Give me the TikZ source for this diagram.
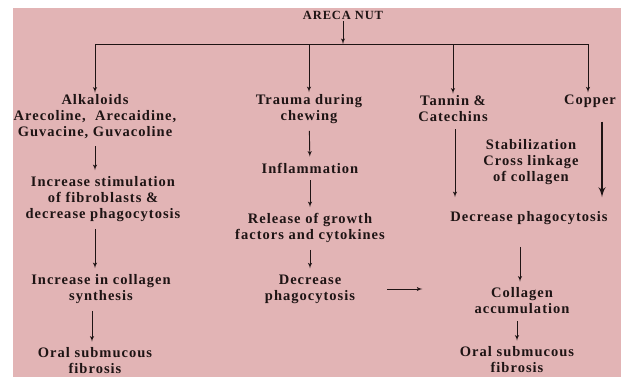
\documentclass[tikz,border=0pt]{standalone}
\usepackage{fontspec}
\setmainfont{Liberation Serif}[LetterSpace=7]
\usetikzlibrary{arrows}
\definecolor{bgpink}{RGB}{226,180,181}
\definecolor{ink}{RGB}{30,20,20}

\begin{document}
\begin{tikzpicture}[x=1pt,y=-1pt]
\tikzset{txt/.style = {align=center, inner sep=2pt, text=ink, font=\bfseries\fontsize{14.5}{16}\selectfont}}
\tikzset{edge/.style = {->, > = latex', draw=ink, line width=0.9pt, shorten <=5pt, shorten >=4pt}}
\tikzset{drop/.style = {->, > = latex', draw=ink, line width=0.9pt}}
\useasboundingbox (0,0) rectangle (624,378);
\fill[bgpink] (13,8) rectangle (621,377);
% top
\node[txt, font=\bfseries\fontsize{12.5}{14}\selectfont](areca) at (343, 15) {ARECA NUT};
\coordinate (bar) at (343, 44);
\coordinate (barL) at (95, 44);
\coordinate (barR) at (588, 44);
% first row
\node[txt](alk) at (95, 117) {Alkaloids\\Arecoline,\ \ Arecaidine,\\Guvacine, Guvacoline};
\node[txt](trauma) at (309, 109) {Trauma during\\chewing};
\node[txt](tannin) at (453, 109) {Tannin \&\\Catechins};
\node[txt](copper) at (590, 101) {Copper};
% left column
\node[txt](stim) at (103, 199) {Increase stimulation\\of fibroblasts \&\\decrease phagocytosis};
\node[txt](incr) at (101, 289) {Increase in collagen\\synthesis};
\node[txt](osf1) at (95, 361) {Oral submucous\\fibrosis};
% middle column
\node[txt](infl) at (310, 168) {Inflammation};
\node[txt](release) at (310, 228) {Release of growth\\factors and cytokines};
\node[txt](deca) at (310, 289) {Decrease\\phagocytosis};
% right column
\node[txt](stab) at (531, 162) {Stabilization\\Cross linkage\\of collagen};
\node[txt](decb) at (529, 218) {Decrease phagocytosis};
\node[txt](accum) at (522, 301) {Collagen\\accumulation};
\node[txt](osf2) at (517, 360) {Oral submucous\\fibrosis};
% connectors
\draw[drop] (areca) -- (bar);
\draw[draw=ink, line width=0.9pt] (barL) -- (barR);
\draw[drop] (barL) -- (alk);
\draw[drop] (bar -| trauma) -- (trauma);
\draw[drop] (bar -| tannin) -- (tannin);
\draw[drop] (barR) -- (barR |- copper.north);
\draw[edge] (alk.south) -- (alk.south |- stim.north);
\draw[edge] ([xshift=-8pt]stim.south) -- ([xshift=-8pt]stim.south |- incr.north);
\draw[edge] ([xshift=-9pt]incr.south) -- ([xshift=-9pt]incr.south |- osf1.north);
\draw[edge] (trauma) -- (infl);
\draw[edge] (infl) -- (release);
\draw[edge] (release) -- (deca);
\draw[edge, shorten <=30pt, shorten >=50pt] (deca.east) -- (deca.east -| accum.west);
\draw[edge, shorten >=12pt] ([xshift=2pt]tannin.south) -- ([xshift=2pt]tannin.south |- decb.north);
\draw[edge, line width=2.4pt, shorten <=12pt, shorten >=12pt] ([xshift=12pt]copper.south) -- ([xshift=12pt]copper.south |- decb.north);
\draw[edge, shorten <=20pt] ([xshift=-9pt]decb.south) -- ([xshift=-9pt]decb.south |- accum.north);
\draw[edge] ([xshift=-5pt]accum.south) -- ([xshift=-5pt]accum.south |- osf2.north);
\end{tikzpicture}
\end{document}
